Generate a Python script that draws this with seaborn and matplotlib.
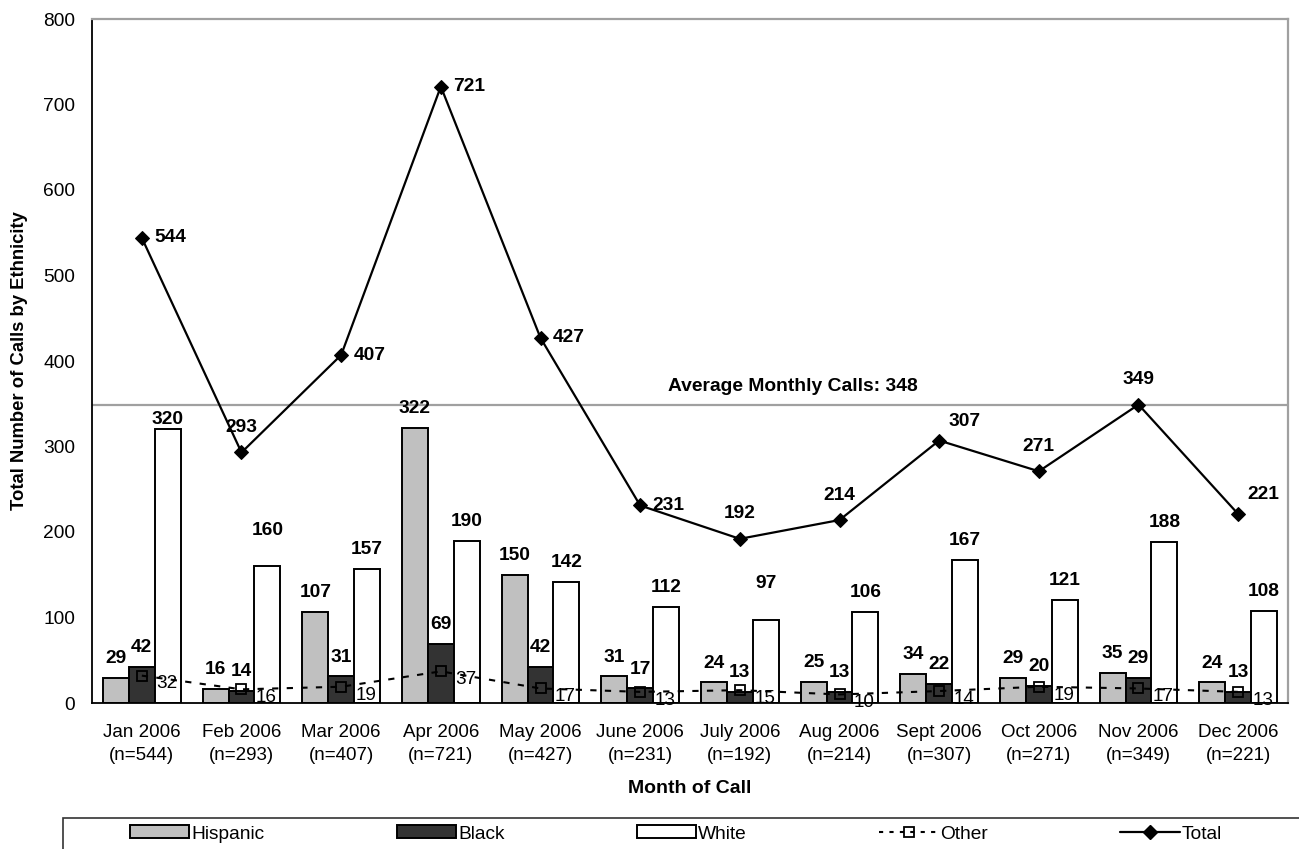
import numpy as np
import pandas as pd
import seaborn as sns
import matplotlib.pyplot as plt
from matplotlib.patches import Patch, Rectangle
from matplotlib.lines import Line2D

months = ["Jan 2006", "Feb 2006", "Mar 2006", "Apr 2006", "May 2006", "June 2006",
          "July 2006", "Aug 2006", "Sept 2006", "Oct 2006", "Nov 2006", "Dec 2006"]
hispanic = [29, 16, 107, 322, 150, 31, 24, 25, 34, 29, 35, 24]
black = [42, 14, 31, 69, 42, 17, 13, 13, 22, 20, 29, 13]
white = [320, 160, 157, 190, 142, 112, 97, 106, 167, 121, 188, 108]
other = [32, 16, 19, 37, 17, 13, 15, 10, 14, 19, 17, 13]
total = [544, 293, 407, 721, 427, 231, 192, 214, 307, 271, 349, 221]
avg_calls = 348

month_labels = [f"{m}\n(n={t})" for m, t in zip(months, total)]
groups = ["Hispanic", "Black", "White"]
colors = {"Hispanic": "#c0c0c0", "Black": "#333333", "White": "#ffffff"}

df = pd.DataFrame({
    "Month": month_labels * 3,
    "Ethnicity": np.repeat(groups, len(months)),
    "Calls": hispanic + black + white,
})

# label placement tweaks (points)
bar_label_extra = {("White", 0): -7, ("White", 1): 12, ("White", 6): 12}
total_pos = ["right", "above", "right", "right", "right", "right",
             "above", "above", "upright", "above", "above", "upright"]

sns.set_style("white")
plt.rcParams["font.family"] = ["Liberation Sans", "DejaVu Sans"]
plt.rcParams.update({"text.color": "black", "axes.labelcolor": "black",
                     "xtick.color": "black", "ytick.color": "black"})

fig = plt.figure(figsize=(12.99, 8.49), dpi=100)
ax = fig.add_axes([92 / 1299, 1 - 703 / 849, (1288 - 92) / 1299, (703 - 19) / 849])

sns.barplot(data=df, x="Month", y="Calls", hue="Ethnicity", hue_order=groups,
            palette=colors, saturation=1, width=0.78, edgecolor="black",
            linewidth=1.4, legend=False, ax=ax)

# bar value labels
for g, cont in zip(groups, ax.containers):
    for i, bar in enumerate(cont):
        h = bar.get_height()
        off = 14 + bar_label_extra.get((g, i), 0)
        ax.annotate(f"{int(h)}", (bar.get_x() + bar.get_width() / 2, h),
                    xytext=(0, off), textcoords="offset points",
                    ha="center", va="center", fontsize=13.8, fontweight="bold")

x = np.arange(len(months))
ax.axhline(avg_calls, color="#a0a0a0", lw=1.6, zorder=1)
ax.annotate(f"Average Monthly Calls: {avg_calls}", (5.28, avg_calls), xytext=(0, 14),
            textcoords="offset points", ha="left", va="center",
            fontsize=13.9, fontweight="bold")

sns.lineplot(x=x, y=other, color="black", lw=1.5, linestyle=(0, (3, 4)),
             marker="s", markersize=7, markerfacecolor="none",
             markeredgecolor="black", markeredgewidth=1.3, ax=ax, zorder=4)
sns.lineplot(x=x, y=total, color="black", lw=1.6, marker="D", markersize=7,
             markerfacecolor="black", markeredgecolor="black", ax=ax, zorder=5)

for i, v in enumerate(other):
    ax.annotate(str(v), (i, v), xytext=(18, -6), textcoords="offset points",
                ha="center", va="center", fontsize=13.6)

place = {"right": ((9, 0), "left"), "above": ((0, 18), "center"),
         "upright": ((18, 14), "center")}
for i, v in enumerate(total):
    off, ha = place[total_pos[i]]
    ax.annotate(str(v), (i, v), xytext=off, textcoords="offset points",
                ha=ha, va="center", fontsize=13.8, fontweight="bold")

ax.set_xlim(-0.5, len(months) - 0.5)
ax.set_ylim(0, 800)
ax.set_yticks(range(0, 801, 100))
ax.set_xticks(x)
ax.set_xticklabels(month_labels, fontsize=13.5, linespacing=1.45)
ax.set_xticks(np.arange(-0.5, len(months), 1), minor=True)
ax.tick_params(axis="x", which="major", length=0, pad=15)
ax.tick_params(axis="x", which="minor", length=8, direction="inout", width=1, color="black")
ax.tick_params(axis="y", length=12, direction="inout", width=1, color="black",
               labelsize=13.8, pad=6)

for s in ["left", "bottom"]:
    ax.spines[s].set_color("black")
    ax.spines[s].set_linewidth(1.3)
for s in ["top", "right"]:
    ax.spines[s].set_color("#a0a0a0")
    ax.spines[s].set_linewidth(1.6)

ax.set_xlabel("Month of Call", fontsize=14, fontweight="bold", labelpad=12)
ax.set_ylabel("Total Number of Calls by Ethnicity", fontsize=13.3, fontweight="bold",
              labelpad=11)

# legend frame below the chart
fig.add_artist(Rectangle((63 / 1299, -0.1), 1.2, 0.1 + (849 - 818) / 849,
                         transform=fig.transFigure, fill=False, ec="#333333", lw=1.2))
handles = [Patch(facecolor=colors[g], edgecolor="black", lw=1.4) for g in groups]
handles += [
    Line2D([], [], color="black", lw=1.5, linestyle=(0, (2, 3)), marker="s",
           markersize=7, markerfacecolor="none", markeredgewidth=1.3),
    Line2D([], [], color="black", lw=1.6, marker="D", markersize=7),
]
fig.legend(handles, groups + ["Other", "Total"], ncol=5, frameon=False,
           loc="center left", bbox_to_anchor=(130 / 1299, 1 - 834 / 849),
           fontsize=13.8, handlelength=3.1, handleheight=0.65, handletextpad=0.1,
           columnspacing=6.9, borderpad=0, borderaxespad=0)

fig.savefig("out.png", dpi=100)
